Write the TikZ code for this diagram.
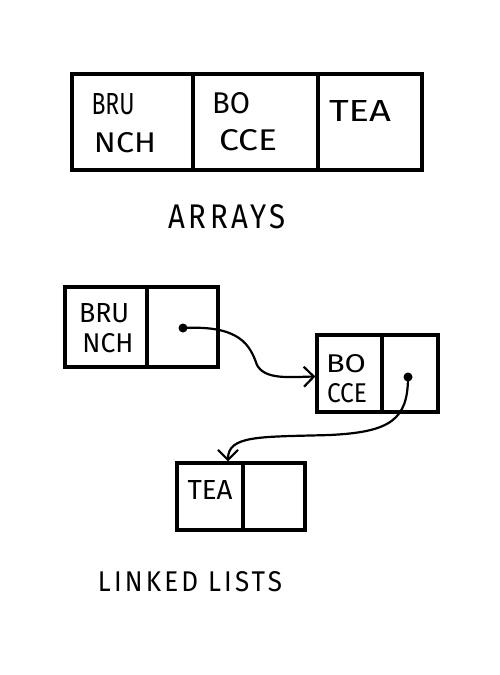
\documentclass[tikz,border=0pt]{standalone}
\usepackage{fontspec}
\setmainfont{Fira Sans}
\usetikzlibrary{arrows.meta}
\newcommand{\hwfit}[3]{\resizebox{#1pt}{#2pt}{#3}}
\begin{document}
\begin{tikzpicture}[x=1pt,y=-1pt,
  cell/.style={draw=black,line width=3.2pt,rectangle,inner sep=0pt,anchor=center},
  lbl/.style={inner sep=0pt,font=\fontsize{30}{32}\selectfont,anchor=center},
  ttl/.style={inner sep=0pt,font=\fontsize{30}{32}\selectfont\addfontfeature{LetterSpace=12},anchor=center},
  ptr/.style={circle,fill=black,inner sep=0pt,minimum size=9pt},
  link/.style={line width=2.2pt,-{Straight Barb[length=10pt,width=20pt,line width=2.2pt]}}
]
\useasboundingbox (0,0) rectangle (500,675);
% arrays
\node[cell,minimum width=121pt,minimum height=96pt] (a1) at (132.5,122) {};
\node[cell,minimum width=125pt,minimum height=96pt] (a2) at (255.5,122) {};
\node[cell,minimum width=104pt,minimum height=96pt] (a3) at (370,122) {};
\node[lbl] (t1) at (113,104) {\hwfit{43}{21}{BRU}};
\node[lbl] (t2) at (125,143) {\hwfit{62}{20}{NCH}};
\node[lbl] (t3) at (231,103) {\hwfit{38}{21}{BO}};
\node[lbl] (t4) at (248,140) {\hwfit{58}{21}{CCE}};
\node[lbl] (t5) at (360,111) {\hwfit{62}{21}{TEA}};
\node[ttl] (arr) at (227,217) {\hwfit{117}{24}{ARRAYS}};
% linked lists
\node[cell,minimum width=82pt,minimum height=80pt] (b1l) at (106,327) {};
\node[cell,minimum width=71pt,minimum height=80pt] (b1r) at (182.5,327) {};
\node[cell,minimum width=65pt,minimum height=77pt] (b2l) at (349.5,373.5) {};
\node[cell,minimum width=56pt,minimum height=77pt] (b2r) at (410,373.5) {};
\node[cell,minimum width=66pt,minimum height=67pt] (b3l) at (210,496.5) {};
\node[cell,minimum width=62pt,minimum height=67pt] (b3r) at (274,496.5) {};
\node[lbl] (l1) at (104,313) {\hwfit{50}{19}{BRU}};
\node[lbl] (l2) at (108,343) {\hwfit{51}{19}{NCH}};
\node[lbl] (l3) at (346,364) {\hwfit{40}{18}{BO}};
\node[lbl] (l4) at (347,393) {\hwfit{40}{19}{CCE}};
\node[lbl] (l5) at (210,490) {\hwfit{45}{19}{TEA}};
\node[ptr] (d1) at (183,328) {};
\node[ptr] (d2) at (408,377) {};
\draw[link] (d1.center) .. controls (240,325) and (250,345) .. (257,365)
  .. controls (265,380) and (290,377) .. ([yshift=-3pt]b2l.west);
\draw[link] (d2.center) .. controls (408,420) and (390,432) .. (330,435)
  .. controls (260,437) and (228,435) .. ([xshift=18pt]b3l.north);
\node[ttl] (ll) at (190,582) {\hwfit{184}{20}{LINKED LISTS}};
\end{tikzpicture}
\end{document}
